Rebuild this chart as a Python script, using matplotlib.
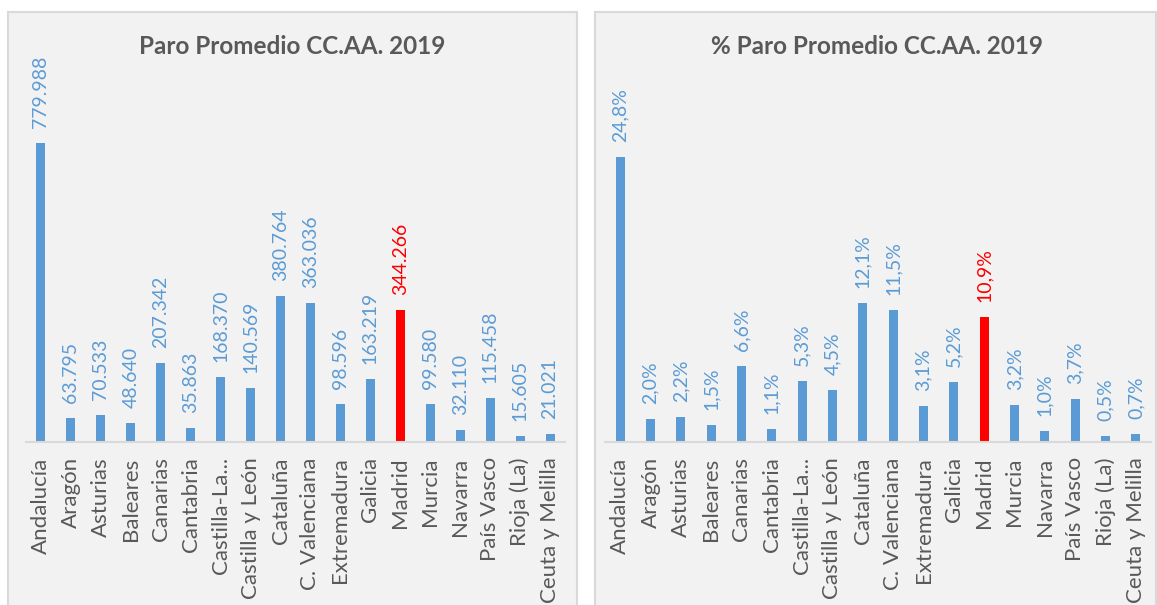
import matplotlib
matplotlib.use("Agg")
import matplotlib.pyplot as plt
from matplotlib.patches import Rectangle

categories = ["Andalucía", "Aragón", "Asturias", "Baleares", "Canarias", "Cantabria",
              "Castilla-La...", "Castilla y León", "Cataluña", "C. Valenciana",
              "Extremadura", "Galicia", "Madrid", "Murcia", "Navarra", "País Vasco",
              "Rioja (La)", "Ceuta y Melilla"]
paro = [779988, 63795, 70533, 48640, 207342, 35863, 168370, 140569, 380764, 363036,
        98596, 163219, 344266, 99580, 32110, 115458, 15605, 21021]
paro_pct = [24.8, 2.0, 2.2, 1.5, 6.6, 1.1, 5.3, 4.5, 12.1, 11.5,
            3.1, 5.2, 10.9, 3.2, 1.0, 3.7, 0.5, 0.7]
highlight = "Madrid"
title_left = "Paro Promedio CC.AA. 2019"
title_right = "% Paro Promedio CC.AA. 2019"

BLUE = "#5B9BD5"
RED = "#FF0000"
BG = "#F2F2F2"
BORDER = "#D9D9D9"
TXT = "#595959"
FONT = ["Lato", "DejaVu Sans"]
plt.rcParams["font.family"] = FONT

W, H = 1157, 605
fig = plt.figure(figsize=(W / 100, H / 100), dpi=100)
fig.patch.set_facecolor("white")

def fx(px):
    return px / W

def fy(py):
    return 1 - py / H

# panels
for (x0, x1) in [(8, 577), (595, 1156)]:
    fig.patches.append(Rectangle((fx(x0), fy(612)), fx(x1 - x0), (612 - 12) / H,
                                 transform=fig.transFigure, facecolor=BG,
                                 edgecolor=BORDER, linewidth=1.5, zorder=-5))

def fmt_thousands(v):
    return f"{v:,}".replace(",", ".")

def fmt_pct(v):
    return f"{v:.1f}%".replace(".", ",")

def draw(ax_rect, values, ymax, fmt, title, title_x):
    ax = fig.add_axes(ax_rect)
    ax.set_facecolor("none")
    n = len(categories)
    xs = list(range(n))
    colors = [RED if c == highlight else BLUE for c in categories]
    ax.bar(xs, values, width=0.3, color=colors, zorder=2)
    ax.set_xlim(-0.5, n - 0.5)
    ax.set_ylim(0, ymax)
    for s in ["top", "right", "left"]:
        ax.spines[s].set_visible(False)
    ax.spines["bottom"].set_color(BORDER)
    ax.spines["bottom"].set_linewidth(1.5)
    ax.set_yticks([])
    ax.set_xticks(xs)
    ax.set_xticklabels(categories, rotation=90, fontsize=16, color=TXT)
    ax.tick_params(axis="x", length=0, pad=11)
    for x, v, c in zip(xs, values, colors):
        ax.annotate(fmt(v), (x, v), xytext=(0, 15), textcoords="offset pixels",
                    rotation=90, ha="center", va="bottom", fontsize=14,
                    color=c)
    fig.text(title_x, fy(47), title, ha="center", va="center", fontsize=17.5,
             fontweight="bold", color=TXT)
    return ax

ax_h = 372
draw([fx(26), fy(442), fx(565 - 26), ax_h / H], paro, 779988 * ax_h / 299,
     fmt_thousands, title_left, fx(292))
draw([fx(605), fy(442), fx(1151 - 605), ax_h / H], paro_pct, 24.8 * ax_h / 285,
     fmt_pct, title_right, fx(877))

fig.savefig("out.png", dpi=100, facecolor="white")
